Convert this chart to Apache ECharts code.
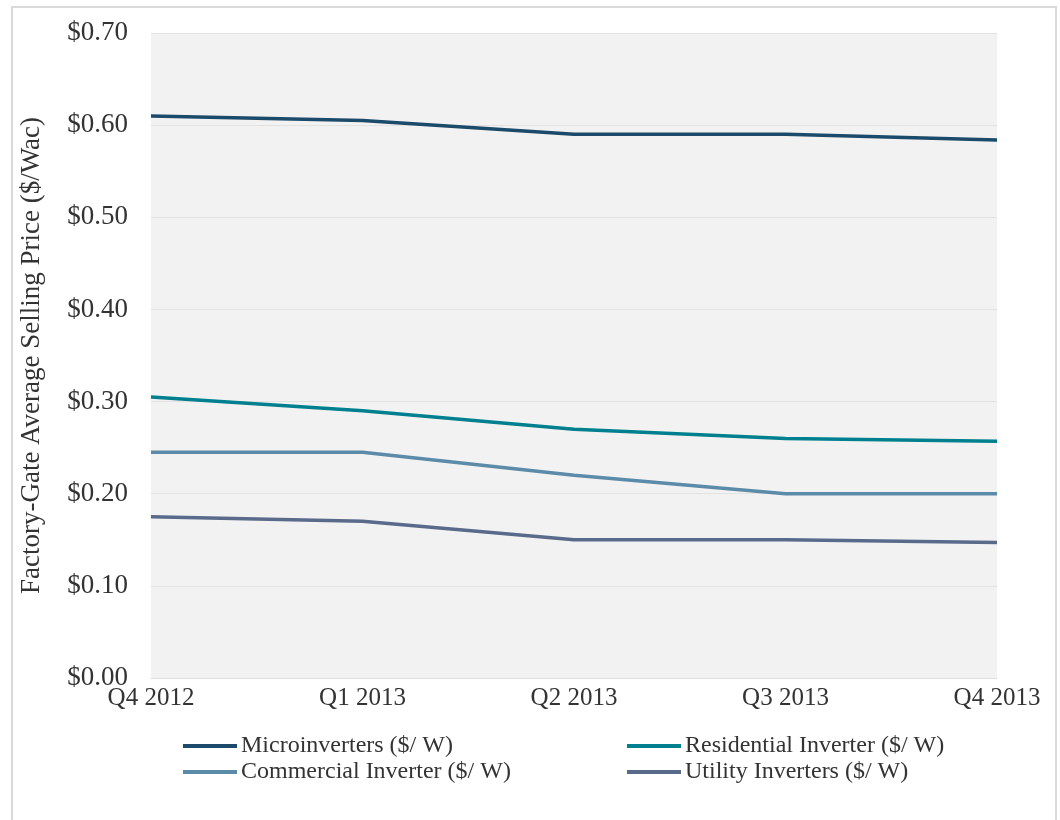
<!DOCTYPE html>
<html>
<head>
<meta charset="utf-8">
<script src="https://cdn.jsdelivr.net/npm/echarts@6/dist/echarts.min.js"></script>
<style>html,body{margin:0;padding:0;background:#fff}#c{width:1060px;height:820px}</style>
</head>
<body>
<div id="c"></div>
<script>
var categories = ['Q4 2012', 'Q1 2013', 'Q2 2013', 'Q3 2013', 'Q4 2013'];
var microinverters = [0.610, 0.605, 0.590, 0.590, 0.584];
var residential = [0.305, 0.290, 0.270, 0.260, 0.257];
var commercial = [0.245, 0.245, 0.220, 0.200, 0.200];
var utility = [0.175, 0.170, 0.150, 0.150, 0.147];
var seriesNames = ['Microinverters ($/ W)', 'Residential Inverter ($/ W)', 'Commercial Inverter ($/ W)', 'Utility Inverters ($/ W)'];
var colors = ['#1b4a6b', '#00808f', '#5b8ba8', '#5a6a8b'];

var FONT = '"Liberation Serif", "Times New Roman", serif';
var chart = echarts.init(document.getElementById('c'), null, {renderer: 'canvas'});

function mk(name, data, color) {
  return {
    name: name, type: 'line', data: data, symbol: 'none',
    lineStyle: {color: color, width: 3.5}, itemStyle: {color: color}
  };
}

var legendCommon = {
  orient: 'vertical', icon: 'rect', itemWidth: 54, itemHeight: 4, itemGap: 2,
  textStyle: {fontFamily: FONT, fontSize: 24, lineHeight: 22, color: '#333', padding: [0, 0, 0, -1]}
};

chart.setOption({
  animation: false,
  backgroundColor: '#ffffff',
  color: colors,
  graphic: [{
    type: 'rect', shape: {x: 12, y: 7, width: 1044, height: 830},
    style: {fill: 'none', stroke: '#d9d9d9', lineWidth: 2}, silent: true
  }],
  grid: {left: 151, right: 63, top: 33, bottom: 142, show: true, backgroundColor: '#f2f2f2', borderWidth: 0},
  xAxis: {
    type: 'category', data: categories, boundaryGap: false,
    axisLine: {show: true, lineStyle: {color: '#e0e0e0', width: 1}},
    axisTick: {show: false},
    axisLabel: {fontFamily: FONT, fontSize: 25, color: '#333', margin: 8, showMaxLabel: true, showMinLabel: true}
  },
  yAxis: {
    type: 'value', min: 0, max: 0.7, interval: 0.1,
    name: 'Factory-Gate Average Selling Price ($/Wac)',
    nameLocation: 'middle', nameGap: 106, nameRotate: 90,
    nameTextStyle: {fontFamily: FONT, fontSize: 27, color: '#333'},
    axisLine: {show: false}, axisTick: {show: false},
    splitLine: {show: true, lineStyle: {color: '#e2e2e2', width: 1}},
    axisLabel: {fontFamily: FONT, fontSize: 27, color: '#333', margin: 23,
      formatter: function (v) { return '$' + v.toFixed(2); }}
  },
  legend: [
    Object.assign({left: 178, top: 729, data: [seriesNames[0], seriesNames[2]]}, legendCommon),
    Object.assign({left: 622, top: 729, data: [seriesNames[1], seriesNames[3]]}, legendCommon)
  ],
  series: [
    mk(seriesNames[0], microinverters, colors[0]),
    mk(seriesNames[1], residential, colors[1]),
    mk(seriesNames[2], commercial, colors[2]),
    mk(seriesNames[3], utility, colors[3])
  ]
});
</script>
</body>
</html>
